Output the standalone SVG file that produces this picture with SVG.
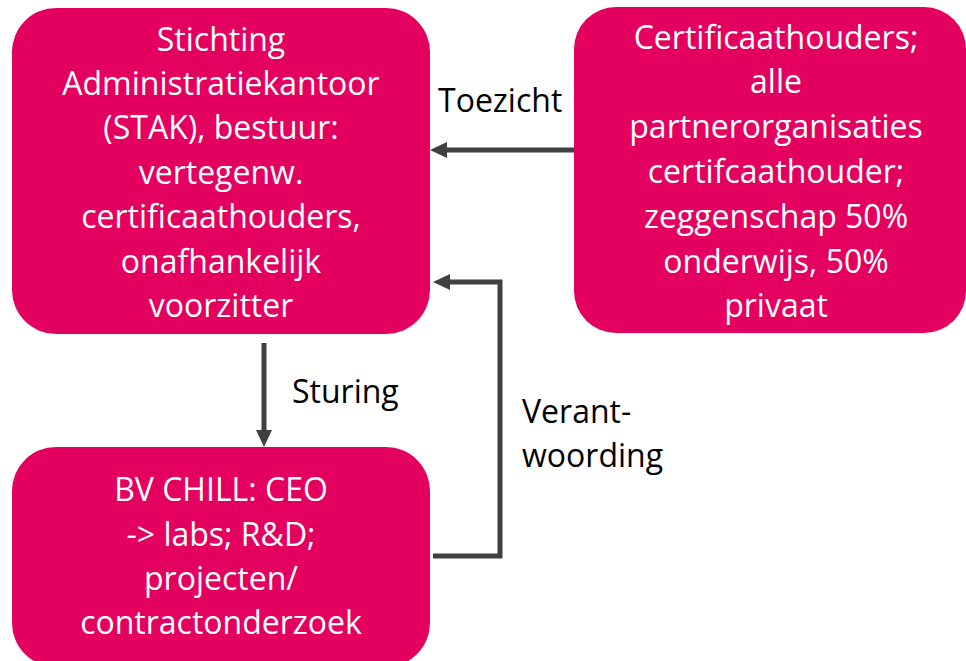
<svg xmlns="http://www.w3.org/2000/svg" width="966" height="661" viewBox="0 0 966 661">
<style>
.box{fill:#E4005F}
.bt{font-family:"Open Sans","Noto Sans",sans-serif;font-size:32px;fill:#fff;text-anchor:middle}
.lbl{font-family:"Open Sans","Noto Sans",sans-serif;font-size:32px;fill:#000}
.con{fill:none;stroke:#404040;stroke-width:5;stroke-linejoin:miter}
</style>
<defs>
<marker id="ah" markerUnits="userSpaceOnUse" markerWidth="17" markerHeight="16" refX="0" refY="8" orient="auto" viewBox="0 0 17 16">
<path d="M0,0 L17,8 L0,16 z" fill="#404040"/>
</marker>
</defs>
<rect width="966" height="661" fill="#fff"/>
<g id="connectors">
<path class="con" d="M574,150 H447" marker-end="url(#ah)"/>
<path class="con" d="M433,556 H500 V282 H450" marker-end="url(#ah)"/>
<path class="con" d="M264,343 V430" marker-end="url(#ah)"/>
</g>
<g id="stak">
<rect class="box" x="12" y="8" width="418" height="326" rx="44"/>
<text class="bt"><tspan x="221" y="51">Stichting</tspan><tspan x="221" y="95">Administratiekantoor</tspan><tspan x="221" y="139">(STAK), bestuur:</tspan><tspan x="221" y="184">vertegenw.</tspan><tspan x="221" y="228">certificaathouders,</tspan><tspan x="221" y="273">onafhankelijk</tspan><tspan x="221" y="317">voorzitter</tspan></text>
</g>
<g id="certificaathouders">
<rect class="box" x="574" y="7" width="392" height="326" rx="42"/>
<text class="bt"><tspan x="776" y="49">Certificaathouders;</tspan><tspan x="776" y="93">alle</tspan><tspan x="776" y="138">partnerorganisaties</tspan><tspan x="776" y="183">certifcaathouder;</tspan><tspan x="776" y="228">zeggenschap 50%</tspan><tspan x="776" y="273">onderwijs, 50%</tspan><tspan x="776" y="317">privaat</tspan></text>
</g>
<g id="bvchill">
<rect class="box" x="12" y="447" width="418" height="220" rx="44"/>
<text class="bt"><tspan x="221" y="501">BV CHILL: CEO</tspan><tspan x="221" y="546">-&gt; labs; R&amp;D;</tspan><tspan x="221" y="590">projecten/</tspan><tspan x="221" y="634">contractonderzoek</tspan></text>
</g>
<g id="labels">
<text class="lbl" x="438" y="112">Toezicht</text>
<text class="lbl" x="292" y="403">Sturing</text>
<text class="lbl"><tspan x="522" y="423">Verant-</tspan><tspan x="522" y="467">woording</tspan></text>
</g>
</svg>
